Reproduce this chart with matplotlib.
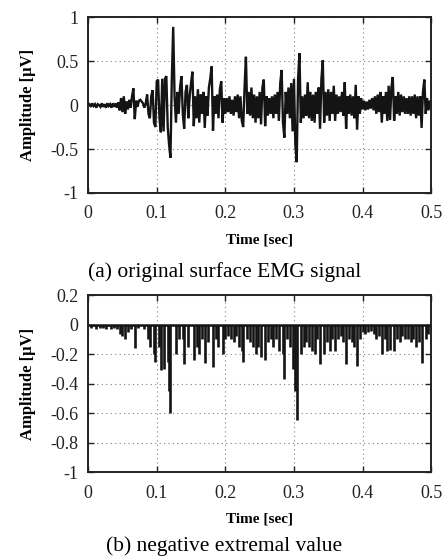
import numpy as np
import matplotlib
matplotlib.use("Agg")
import matplotlib.pyplot as plt

plt.rcParams['font.family'] = ['Liberation Serif', 'DejaVu Serif']

sample_period_s = 0.002
emg_uv = [
    0.00, 0.01, -0.02, 0.02, -0.01, 0.01, -0.03, 0.01, 0.00, -0.02,
    0.02, -0.02, 0.01, -0.03, 0.02, -0.01, 0.01, -0.03, 0.02, -0.02,
    0.02, -0.03, 0.03, -0.06, 0.08, -0.08, 0.10, -0.10, 0.04, -0.05,
    0.06, -0.03, 0.10, 0.19, -0.16, 0.05, -0.02, 0.05, 0.06, 0.04,
    0.02, -0.03, 0.02, 0.12, -0.10, -0.15, 0.10, 0.17, -0.20, -0.25,
    0.27, 0.29, -0.15, -0.31, 0.30, -0.30, 0.30, 0.33, -0.25, -0.45,
    -0.60, 0.30, 0.89, 0.10, -0.20, 0.15, -0.10, 0.20, 0.33, -0.10,
    -0.27, 0.15, 0.23, -0.15, 0.10, 0.25, 0.38, -0.24, 0.10, -0.15,
    0.18, -0.20, 0.12, -0.10, 0.15, -0.26, 0.10, -0.12, 0.20, 0.30,
    0.44, -0.29, 0.10, -0.10, 0.12, -0.15, 0.18, 0.27, -0.20, 0.08,
    -0.10, 0.08, -0.08, 0.10, -0.10, 0.06, -0.12, 0.10, -0.08, 0.12,
    -0.15, 0.10, -0.18, -0.25, 0.20, 0.55, -0.10, 0.15, -0.12, 0.20,
    -0.15, 0.12, -0.20, 0.10, -0.15, 0.15, -0.22, 0.20, 0.29, -0.24,
    0.10, -0.12, 0.08, -0.10, 0.10, -0.15, 0.12, -0.10, 0.15, -0.18,
    0.25, 0.40, -0.20, -0.37, 0.15, -0.10, 0.20, -0.15, 0.25, -0.30,
    0.30, -0.45, -0.65, 0.30, 0.59, -0.20, 0.10, -0.15, 0.12, -0.12,
    0.26, -0.15, 0.15, -0.18, 0.12, -0.20, 0.15, -0.10, 0.20, -0.27,
    0.30, 0.51, -0.20, 0.15, -0.12, 0.18, -0.18, 0.15, -0.10, 0.22,
    -0.18, 0.12, -0.10, 0.10, -0.08, 0.15, -0.12, 0.26, -0.27, 0.10,
    -0.10, 0.12, -0.12, 0.10, -0.15, 0.23, -0.28, 0.10, -0.10, 0.08,
    -0.05, 0.05, -0.06, 0.04, -0.05, 0.06, -0.04, 0.08, -0.06, 0.10,
    -0.10, 0.12, -0.08, 0.15, -0.20, 0.10, -0.10, 0.15, -0.18, 0.22,
    -0.17, 0.20, 0.32, -0.18, 0.10, -0.10, 0.15, -0.12, 0.12, -0.08,
    0.10, -0.10, 0.08, -0.10, 0.10, -0.12, 0.10, -0.10, 0.12, -0.15,
    0.10, -0.12, 0.10, -0.26, 0.15, 0.29, -0.10, 0.08, -0.06, 0.05,
    0.00,
]

x_ticks = [0, 0.1, 0.2, 0.3, 0.4, 0.5]
x_tick_labels = ["0", "0.1", "0.2", "0.3", "0.4", "0.5"]
y_ticks_a = [-1, -0.5, 0, 0.5, 1]
y_tick_labels_a = ["-1", "-0.5", "0", "0.5", "1"]
y_ticks_b = [-1, -0.8, -0.6, -0.4, -0.2, 0, 0.2]
y_tick_labels_b = ["-1", "-0.8", "-0.6", "-0.4", "-0.2", "0", "0.2"]
caption_a = "(a) original surface EMG signal"
caption_b = "(b) negative extremal value"
xlabel = "Time [sec]"
ylabel = "Amplitude [\u03bcV]"

emg = np.array(emg_uv)
t = np.arange(len(emg)) * sample_period_s

# negative extremal values: the negative samples of the signal
neg_mask = emg < 0
t_neg = t[neg_mask]
v_neg = emg[neg_mask]

fig = plt.figure(figsize=(4.45, 5.56), dpi=100)
ax1 = fig.add_axes([0.198, 0.653, 0.771, 0.316])
ax2 = fig.add_axes([0.198, 0.151, 0.771, 0.318])

ax1.plot(t, emg, color='#141414', lw=1.7, solid_joinstyle='miter')
ax2.vlines(t_neg, 0, v_neg, color='#141414', lw=1.9)
ax2.axhline(0, color='#141414', lw=1.8)

def style(ax, yt, ytl, ylim):
    ax.set_xlim(0, 0.5)
    ax.set_ylim(*ylim)
    ax.set_xticks(x_ticks)
    ax.set_xticklabels(x_tick_labels, fontsize=13)
    ax.set_yticks(yt)
    ax.set_yticklabels(ytl, fontsize=13)
    ax.tick_params(axis='x', pad=9)
    ax.tick_params(axis='y', pad=7)
    ax.tick_params(direction='in', length=4, width=1.0, top=True, right=True,
                   colors='#222222')
    ax.grid(True, color='0.5', linestyle=(0, (1, 3)), lw=0.8)
    for s in ax.spines.values():
        s.set_linewidth(1.4)
        s.set_color('#222222')
    ax.set_xlabel(xlabel, fontsize=11, fontweight='bold', labelpad=8)
    ax.set_ylabel(ylabel, fontsize=12, fontweight='bold', labelpad=10)

style(ax1, y_ticks_a, y_tick_labels_a, (-1, 1))
style(ax2, y_ticks_b, y_tick_labels_b, (-1, 0.2))

fig.text(0.505, 0.511, caption_a, ha='center', va='center', fontsize=15.5)
fig.text(0.503, 0.018, caption_b, ha='center', va='center', fontsize=15.5)

fig.savefig("out.png", dpi=100)
